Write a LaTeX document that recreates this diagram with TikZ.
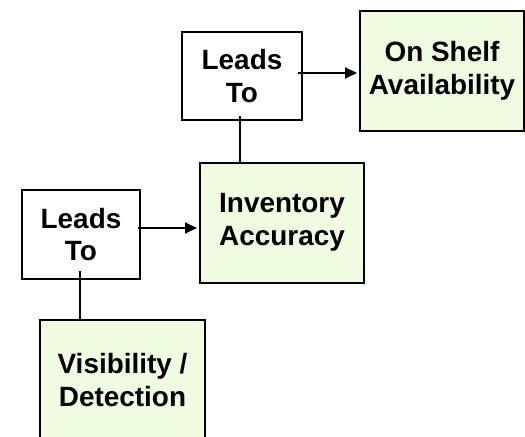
\documentclass[tikz,border=0pt]{standalone}
\usepackage{fontspec}
\setmainfont{Liberation Sans}
\usetikzlibrary{arrows.meta,calc}
\definecolor{paleGreen}{RGB}{240,252,226}
\tikzset{
  box/.style={draw=black, line width=2bp, minimum width=#1, inner sep=0pt, align=center,
    font=\fontsize{28}{33}\selectfont\bfseries},
  linkbox/.style={box=120bp, fill=white, minimum height=88bp},
  goalbox/.style={box=164bp, fill=paleGreen, minimum height=120bp},
  conn/.style={line width=2bp},
  arr/.style={conn, shorten >=2bp, -{Triangle[length=12bp,width=11bp]}},
}
\begin{document}
\begin{tikzpicture}[x=1bp,y=1bp]
  \clip (0,0) rectangle (525,-437);
  \fill[white] (0,0) rectangle (525,-437);

  % upper step
  \node[linkbox] (lt1) at (242,-76) {Leads\\To};
  \node[goalbox] (osa) at (442,-71) {On Shelf\\Availability};
  \node[goalbox, text depth=8pt] (inv) at (282,-223) {Inventory\\Accuracy};

  % lower step
  \node[linkbox, minimum width=118bp, minimum height=89bp] (lt2) at (81,-234.5) {Leads\\To};
  \node[goalbox, minimum width=165bp] (vis) at (122.5,-380) {Visibility /\\Detection};

  % connector start points, inside the link boxes
  \coordinate (a1) at ($(lt1.east)+(-5,3)$);
  \coordinate (b1) at ($(lt1.south)+(-2,5)$);
  \coordinate (a2) at ($(lt2.east)+(-3,6.5)$);
  \coordinate (b2) at ($(lt2.south)+(-1,9)$);

  % connectors
  \draw[arr] (a1) -- (a1 -| osa.west);
  \draw[conn] (b1) -- (b1 |- inv.north);
  \draw[arr] (a2) -- (a2 -| inv.west);
  \draw[conn] (b2) -- (b2 |- vis.north);
\end{tikzpicture}
\end{document}
